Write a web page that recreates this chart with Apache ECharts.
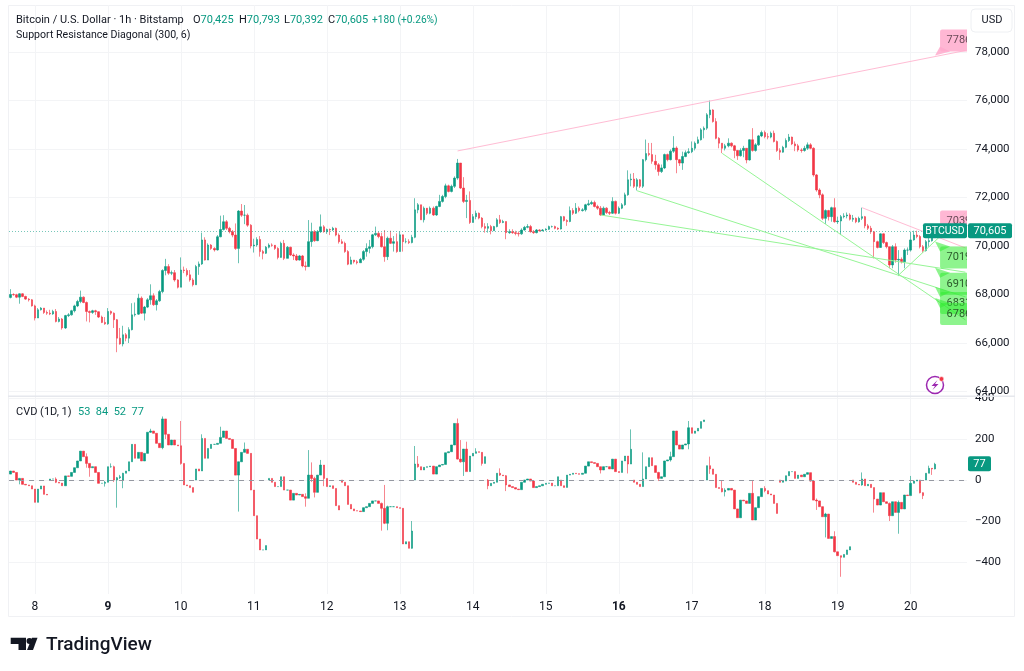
<!doctype html>
<html>
<head>
    <meta charset="utf-8">
    <title>BTCUSD</title>
    <script src="https://cdn.jsdelivr.net/npm/echarts@6/dist/echarts.min.js"></script>
    <style>
        html, body { margin: 0; padding: 0; background: #fff; }
        #main { width: 1024px; height: 671px; }
    </style>
</head>
<body>
    <div id="main"></div>
    <script type="text/javascript">
        // tick labels
        var dayLabels = ['8', '9', '10', '11', '12', '13', '14', '15', '16', '17', '18', '19', '20'];
        var priceTicks = [64000, 66000, 68000, 70000, 72000, 74000, 76000, 78000];
        var cvdTicks = [-400, -200, 0, 200, 400];

        // hourly candles. open is the previous close
        var priceFirstOpen = 67880;
        var priceClose = [
            68000,67990,67890,68030,67920,67810,67780,67530,
            67030,67370,67440,67260,67230,67200,67300,66890,66990,66620,67130,67160,67330,67530,67710,67890,
            67670,67300,67260,67330,67290,67070,66850,66790,67300,67230,66960,66200,65960,66340,66200,66550,67160,67190,67850,67230,67480,67780,67950,67580,
            67740,68120,68990,69150,68880,68900,68600,68300,69010,68990,68810,68600,68400,69150,69260,70250,69420,70040,69900,69840,70380,70680,71000,70730,
            70590,70450,69900,71440,71270,71270,70860,70000,70040,70270,69770,69700,69950,70040,70030,69900,69530,70110,69490,69950,69630,69590,69420,69590,
            69180,69150,70180,70590,70220,70590,70790,70590,70680,70660,70730,70450,70180,70110,69770,69250,69420,69350,69310,69450,69770,69900,69970,70460,
            70520,70390,69970,69560,70320,70110,70180,69770,70460,70180,70180,70140,70360,71490,71700,71080,71560,71350,71560,71280,71630,71840,72040,72480,
            72250,72460,72800,73420,72390,71840,71880,70970,71210,71350,71150,70800,70730,70800,70630,70800,71080,70970,71010,70550,70590,70550,70520,70500,
            70660,70770,70800,70590,70550,70660,70630,70660,70690,70800,70800,70730,70700,71210,71050,71010,71460,71350,71560,71460,71490,71700,71740,71790,
            71630,71560,71280,71560,71380,71350,71840,71350,71560,71700,72110,72730,72760,72460,72730,72460,73560,73810,73770,73490,73350,73070,73220,73770,
            73560,73910,74040,73560,73420,73690,73850,73890,74030,74240,74380,74790,74860,75410,75610,75130,74440,74240,74030,74130,74240,74130,73940,73720,
            73940,74030,73550,74380,73940,74170,74540,74680,74510,74490,74650,74310,73940,73870,74070,74350,74490,74210,74130,73960,73940,74030,74170,74030,
            72930,72310,72110,71140,71460,71210,71580,71000,71030,71210,71240,71280,71100,71140,71000,71140,71210,70830,70730,70590,70180,69940,70500,70140,
            69970,69220,69970,69420,69450,69350,69830,69830,70250,70450,70390,69970,69810,70180,70220,70425,70605
        ];
        var priceHigh = [
            68220,68050,68030,68050,68050,67950,67850,67810,
            67580,67440,67480,67440,67340,67370,67370,67400,67070,67030,67160,67230,67370,67580,67780,68160,
            67920,67710,67340,67370,67370,67300,67130,67070,67440,67340,67260,66990,66620,66710,66410,66650,67640,67670,68030,67920,67530,67850,68420,68050,
            67810,68190,69040,69470,69250,68990,69010,68630,69530,69150,69080,69010,68670,69220,69360,70550,70360,70110,70080,69950,70450,71250,71270,71070,
            70790,70660,70930,71480,71730,71690,71340,70900,70300,70360,70410,69840,70000,70110,70110,69930,69950,70180,70250,70000,69970,69700,69670,69630,
            69630,69360,71070,70960,70660,70660,71300,70860,70720,70720,70790,70760,70520,70280,70180,69830,69560,69420,69420,69510,69830,70110,70250,70500,
            70800,70590,70550,70660,70390,70630,70410,70520,70600,70430,70320,70280,70460,71970,71770,71700,71630,71460,71630,71630,71660,72110,72110,72570,
            72530,72530,72870,73590,73420,72840,72110,72250,71320,71460,71380,71190,70940,70940,70870,70830,71150,71280,71080,71010,70690,70690,70630,70600,
            70730,70830,70900,70870,70660,70700,70690,70700,70730,70840,70840,70840,70770,71240,71240,71100,71630,71560,71770,71630,71560,71740,71900,71870,
            71870,71700,71650,71630,71600,71450,72010,71870,71630,71770,72200,73120,72980,73010,72800,72760,73590,74390,74250,74250,73760,73420,73360,73810,
            73810,73980,74530,74110,73590,73890,73940,74030,74310,74310,74510,74860,74930,75480,76000,75640,75270,74490,74240,74210,74440,74270,74170,73960,
            74030,74130,74030,74400,74860,74240,74580,74760,74760,74650,74720,74760,74350,74030,74130,74440,74620,74510,74310,74210,74030,74130,74270,74240,
            74070,72970,72380,72170,71510,71490,71620,71970,71210,71280,71350,71380,71350,71280,71180,71210,71580,71240,70910,70830,70590,70220,70520,70520,
            70180,69970,70040,70110,69830,69530,69900,69940,70590,70630,70630,70450,70040,70250,70520,70560,70793
        ];
        var priceLow = [
            67840,67950,67850,67620,67890,67780,67710,67500,
            66930,67030,67340,67200,67160,67150,67160,66850,66850,66550,66580,67070,67130,67260,67480,67640,
            67640,66890,66850,67200,67160,67030,66820,66750,66750,67160,66620,65620,65930,65860,66070,66000,66520,67090,67160,67200,66930,67440,67580,67530,
            67340,67700,68050,68790,68810,68800,68530,68250,68300,68880,68740,68530,68330,68400,68810,69220,69400,69420,69840,69770,69810,70360,70640,70660,
            70520,70360,69840,69290,71200,70900,70790,69900,69730,69970,69560,69450,69670,69900,69970,69840,69450,69560,69420,69490,69590,69420,69380,69400,
            69120,68990,69220,69970,70170,70200,70540,70550,70500,70450,70620,70400,70100,70080,69720,69210,69250,69280,69240,69310,69390,69560,69700,69900,
            70410,70320,69940,69350,69420,70080,69770,69720,69770,69770,70110,70080,70110,70320,71350,71080,70970,71280,71310,71240,71240,71600,71790,71970,
            72210,72210,72390,72730,72350,71770,71150,70910,70970,71100,71100,70730,70550,70550,70480,70630,70770,70910,70940,70280,70500,70500,70440,70390,
            70460,70630,70730,70550,70500,70520,70590,70610,70630,70660,70760,70690,70660,70680,71010,70830,70980,71280,71320,71390,71420,71420,71660,71700,
            71590,71490,71240,71280,71320,71280,71320,71300,71320,71520,71660,72070,72460,72390,72290,72390,72390,73490,73700,73390,73150,72900,73010,73170,
            73490,73530,73840,73000,73300,73140,73660,73800,73830,73940,74210,74350,74440,74790,75270,75090,74400,74030,73830,73940,74070,74070,73620,73550,
            73690,73660,73410,73520,73890,73890,74130,74490,74440,74400,74440,74270,73880,73550,73850,74030,74290,74160,73910,73890,73850,73890,73960,73990,
            72860,72240,71970,71070,70910,71050,71000,70960,70910,70450,71140,71140,71050,71000,70940,70960,71070,70730,70660,70500,69490,69900,69970,70080,
            69900,69080,69080,69310,68760,69280,69080,69630,69770,70220,70320,69900,69720,69770,69970,70180,70392
        ];

        // CVD restarts from 0 at these hours
        var cvdResets = [13, 37, 61, 85, 109, 133, 157, 181, 205, 229, 253, 277, 301];
        var cvdFirstOpen = 29;
        var cvdClose = [
            44,37,0,8,-21,-24,-28,-44,-109,-44,-29,-70,-73,
            5,5,-11,-15,-28,20,18,37,60,93,141,114,81,60,65,37,-16,-16,-11,65,65,0,11,16,
            33,44,89,174,106,135,93,130,233,239,228,179,158,298,223,171,195,171,167,81,-24,-28,-37,-60,
            54,44,203,106,154,174,174,179,208,239,203,198,154,24,89,135,150,130,-49,-174,-288,-341,-341,-320,
            8,-11,-32,-32,16,-49,-49,-98,-65,-73,-70,-81,-89,24,8,-60,24,73,8,-32,-28,-41,-125,-146,
            -11,-28,-119,-141,-150,-151,-154,-135,-130,-114,-102,-102,-114,-138,-211,-130,-130,-130,-135,-138,-312,-301,-333,-249,
            78,65,49,62,65,68,29,65,73,76,133,138,171,276,102,89,151,41,117,130,138,135,81,114,
            -28,-16,-11,33,24,21,-24,-32,-37,-44,-47,-11,0,5,-5,-37,-32,-28,-21,-16,-15,-28,-28,16,
            -28,-36,24,28,33,31,28,33,68,89,85,81,65,49,65,65,54,102,41,37,93,117,78,150,
            -11,-21,-32,5,65,109,70,37,8,16,93,98,114,239,171,151,171,176,255,228,239,252,285,293,
            70,54,28,-37,-41,-57,-49,-41,-49,-141,-184,-98,-102,-114,-65,-195,-135,-81,-41,-52,-68,-73,-114,-163,
            -11,-5,21,41,41,8,24,16,28,36,-5,-98,-102,-130,-179,-166,-285,-276,-350,-369,-377,-363,-341,-325,
            -11,-21,-24,5,-28,-21,-37,-93,-122,-62,-106,-114,-174,-106,-158,-109,-141,-73,-76,-16,-5,0,-62,-76,
            33,57,54,77
        ];
        // only the candles with a wick you can see: [hour, high, low]
        var cvdWicks = [
            [3,10,-21],[15,13,-15],[25,130,60],[26,81,16],[31,-5,-32],[33,81,60],[34,70,-10],[35,15,-135],[36,25,5],[37,35,-40],
            [46,250,230],[50,310,150],[51,298,200],[56,288,75],[63,223,100],[69,260,180],[75,89,-154],[77,183,135],
            [97,-65,-130],[98,146,-30],[99,86,-10],[100,16,-85],[102,98,60],[103,70,-30],
            [122,-110,-247],[123,-24,-215],[124,-125,-245],[132,-200,-335],[133,166,0],[134,117,60],
            [147,300,100],[148,195,85],[149,151,20],[150,187,41],[153,155,135],[155,135,70],[157,5,-45],[161,57,20],[163,24,-54],
            [194,65,32],[203,117,32],[204,247,130],[208,135,-20],[213,40,-5],[217,138,90],
            [223,288,150],[230,114,30],[234,0,-60],[235,-40,-80],[244,-5,-195],[248,-30,-60],[263,10,-8],[265,-90,-146],
            [268,-160,-280],[271,-250,-353],[273,-370,-472],[280,37,-28],[284,-70,-159],[289,-110,-200],[292,-100,-262],
            [296,20,-30],[299,-5,-65],[300,-60,-93],[302,70,50],[303,57,25],[304,84,52]
        ];

        // diagonals: [from hour, from price, to hour, to price]
        var pinkDiagonals = [
            [147, 73920, 314, 78060],
            [280, 71580, 314, 69920]
        ];
        var greenDiagonals = [
            [206, 72280, 314, 67900],
            [194, 71280, 314, 68920],
            [234, 73820, 314, 66950],
            [292, 68800, 314, 71370]
        ];

        // callouts at the end of the diagonals
        var calloutHour = 304;
        var pinkCallouts = [77860, 70390];
        var greenCallouts = [70190, 69100, 68310, 67860];

        var lastPrice = 70605;
        var lastCvd = 77;

        // legend row: [left, label, value]
        var ohlcLegend = [[193, 'O', '70,425'], [239, 'H', '70,793'], [284, 'L', '70,392'], [328, 'C', '70,605']];
        var changeLegend = '+180 (+0.26%)';
        var cvdLegend = '53  84  52  77';

        var upColor = '#089981';
        var downColor = '#f23645';
        var upWick = 'rgba(8,153,129,0.6)';
        var downWick = 'rgba(242,54,69,0.6)';
        var gridColor = '#f3f4f6';
        var textColor = '#131722';
        var fontName = 'Roboto';
        var gridLeft = 9, gridRight = 967;

        var hours = [];
        var priceCandles = [];
        var cvdCandles = [];
        for (var i = 0; i < 315; i++) {
            hours.push((i - 8) % 24 === 0 && dayLabels[(i - 8) / 24] ? dayLabels[(i - 8) / 24] : '');
        }
        priceClose.forEach(function (c, i) {
            var o = i === 0 ? priceFirstOpen : priceClose[i - 1];
            priceCandles.push([o, c, priceLow[i], priceHigh[i]]);
        });
        cvdClose.forEach(function (c, i) {
            var o = i === 0 ? cvdFirstOpen : cvdClose[i - 1];
            if (cvdResets.indexOf(i) >= 0) o = 0;
            cvdCandles.push([o, c, Math.min(o, c), Math.max(o, c)]);
        });
        cvdWicks.forEach(function (w) {
            cvdCandles[w[0]][3] = Math.max(w[1], cvdCandles[w[0]][3]);
            cvdCandles[w[0]][2] = Math.min(w[2], cvdCandles[w[0]][2]);
        });

        function diagonal(d, color) {
            return {
                type: 'line',
                data: [[d[0], d[1]], [d[2], d[3]]],
                showSymbol: false,
                silent: true,
                animation: false,
                z: 5,
                lineStyle: { color: color, width: 1 }
            };
        }

        function callouts(values, fill, textFill, above) {
            return {
                type: 'custom',
                clip: true,
                silent: true,
                animation: false,
                z: 6,
                data: values.map(function (v) { return [calloutHour, v]; }),
                renderItem: function (params, api) {
                    var p = api.coord([api.value(0), api.value(1)]);
                    var x = p[0] + 5;
                    var y = above ? p[1] - 26 : p[1] + 5;
                    var edge = above ? y + 22 : y;
                    var side = above ? edge - 5 : edge + 5;
                    return {
                        type: 'group',
                        children: [
                            { type: 'polygon', shape: { points: [p, [x, side], [x + 10, edge]] }, style: { fill: fill } },
                            { type: 'rect', shape: { x: x, y: y, width: 40, height: 22, r: 2 }, style: { fill: fill } },
                            {
                                type: 'text',
                                style: {
                                    x: x + 6.5, y: y + 11, text: String(values[params.dataIndex]),
                                    fill: textFill, font: '11px ' + fontName, verticalAlign: 'middle'
                                }
                            }
                        ]
                    };
                }
            };
        }

        function chip(text, chipWidth, tag) {
            return function (params, api) {
                var y = api.coord([0, api.value(1)])[1];
                var out = [];
                if (tag) {
                    out.push({ type: 'rect', shape: { x: gridRight - 44, y: y - 8, width: 44, height: 15, r: 2 }, style: { fill: upColor } });
                    out.push({ type: 'text', style: { x: gridRight - 22, y: y, text: tag, fill: '#fff', font: '10.5px ' + fontName, align: 'center', verticalAlign: 'middle' } });
                }
                out.push({ type: 'rect', shape: { x: gridRight + 1, y: y - 8, width: chipWidth, height: 15, r: 2 }, style: { fill: upColor } });
                out.push({ type: 'text', style: { x: gridRight + 1 + chipWidth / 2, y: y, text: text, fill: '#fff', font: '11px ' + fontName, align: 'center', verticalAlign: 'middle' } });
                return { type: 'group', children: out };
            };
        }

        var series = [
            {
                type: 'candlestick',
                data: priceCandles,
                barWidth: 2,
                animation: false,
                itemStyle: { color: upColor, color0: downColor, borderColor: upWick, borderColor0: downWick, borderWidth: 1 },
                markLine: {
                    silent: true,
                    animation: false,
                    symbol: 'none',
                    label: { show: false },
                    lineStyle: { color: upColor, type: [1, 2], width: 1, opacity: 0.55 },
                    data: [{ yAxis: lastPrice }]
                }
            },
            {
                type: 'candlestick',
                xAxisIndex: 1,
                yAxisIndex: 1,
                data: cvdCandles,
                barWidth: 2,
                animation: false,
                itemStyle: { color: upColor, color0: downColor, borderColor: upWick, borderColor0: downWick, borderWidth: 1 },
                markLine: {
                    silent: true,
                    animation: false,
                    symbol: 'none',
                    label: { show: false },
                    lineStyle: { color: '#9598a1', type: [5, 5], width: 1 },
                    data: [{ yAxis: 0 }]
                }
            }
        ];
        pinkDiagonals.forEach(function (d) { series.push(diagonal(d, '#ffbcd4')); });
        greenDiagonals.forEach(function (d) { series.push(diagonal(d, '#96f596')); });
        series.push(callouts(pinkCallouts, 'rgba(255,170,205,0.85)', '#6b4a58', true));
        series.push(callouts(greenCallouts, 'rgba(50,235,50,0.55)', '#2c5a2c', false));
        series.push({
            type: 'custom', silent: true, animation: false, z: 8,
            data: [[calloutHour, lastPrice]],
            renderItem: chip('70,605', 44, 'BTCUSD')
        });
        series.push({
            type: 'custom', silent: true, animation: false, z: 8,
            xAxisIndex: 1, yAxisIndex: 1,
            data: [[calloutHour, lastCvd]],
            renderItem: chip(String(lastCvd), 23)
        });

        var dayOnly = function (index) { return (index - 8) % 24 === 0 && index <= 296; };

        var legendRich = {
            t: { color: textColor, fontSize: 11, fontFamily: fontName, fontWeight: 'normal' },
            v: { color: upColor, fontSize: 11, fontFamily: fontName, fontWeight: 'normal' },
            s: { color: upColor, fontSize: 10.2, fontFamily: fontName, fontWeight: 'normal' }
        };
        var titles = [
            { left: 16, top: 15, padding: 0, text: '{t|Bitcoin / U.S. Dollar · 1h · Bitstamp}', textStyle: { rich: legendRich } },
            { left: 16, top: 30, padding: 0, text: 'Support Resistance Diagonal (300, 6)', textStyle: { color: textColor, fontSize: 10.6, fontWeight: 'normal', fontFamily: fontName } },
            { left: 16, top: 407, padding: 0, text: '{t|CVD (1D, 1)}', textStyle: { rich: legendRich } },
            { left: 78, top: 407, padding: 0, text: '{v|' + cvdLegend + '}', textStyle: { rich: legendRich } },
            { left: 372, top: 15, padding: 0, text: '{s|' + changeLegend + '}', textStyle: { rich: legendRich } }
        ];
        ohlcLegend.forEach(function (item) {
            titles.push({ left: item[0], top: 15, padding: 0, text: '{t|' + item[1] + '}{v|' + item[2] + '}', textStyle: { rich: legendRich } });
        });

        var option = {
            animation: false,
            backgroundColor: '#fff',
            textStyle: { fontFamily: fontName },
            title: titles,
            grid: [
                { left: gridLeft, right: 1024 - gridRight, top: 5, height: 392 },
                { left: gridLeft, right: 1024 - gridRight, top: 397, height: 197 }
            ],
            xAxis: [
                {
                    type: 'category', data: hours, gridIndex: 0,
                    axisLine: { show: false }, axisTick: { show: false }, axisLabel: { show: false },
                    splitLine: { show: true, alignWithLabel: true, interval: dayOnly, lineStyle: { color: gridColor } }
                },
                {
                    type: 'category', data: hours, gridIndex: 1,
                    axisLine: { show: false }, axisTick: { show: false },
                    axisLabel: {
                        interval: dayOnly, margin: 7, color: textColor, fontSize: 12,
                        formatter: function (v) {
                            return v === '9' || v === '16' ? '{b|' + v + '}' : v;
                        },
                        rich: { b: { fontWeight: 'bold', fontSize: 12, color: textColor } }
                    },
                    splitLine: { show: true, alignWithLabel: true, interval: dayOnly, lineStyle: { color: gridColor } }
                }
            ],
            yAxis: [
                {
                    type: 'value', gridIndex: 0, position: 'right', min: 63773, max: 79938, scale: true,
                    axisLine: { show: false }, axisTick: { show: false, customValues: priceTicks },
                    axisLabel: {
                        customValues: priceTicks, color: textColor, fontSize: 11.5, margin: 8, padding: [8, 0, 0, 0], showMinLabel: true, showMaxLabel: true,
                        formatter: function (v) { return String(v).replace(/(\d\d)(\d{3})$/, '$1,$2'); }
                    },
                    splitLine: { show: true, lineStyle: { color: gridColor } }
                },
                {
                    type: 'value', gridIndex: 1, position: 'right', min: -556, max: 405, scale: true,
                    axisLine: { show: false }, axisTick: { show: false, customValues: cvdTicks },
                    axisLabel: {
                        customValues: cvdTicks, color: textColor, fontSize: 11.5, margin: 8, padding: [8, 0, 0, 0],
                        formatter: function (v) { return String(v).replace('-', '−'); }
                    },
                    splitLine: { show: true, lineStyle: { color: gridColor } }
                }
            ],
            series: series,
            graphic: [
                // frame and pane divider
                { type: 'rect', silent: true, z: -1, shape: { x: 8.5, y: 5.5, width: 1006, height: 611 }, style: { fill: 'none', stroke: '#f0f1f4' } },
                { type: 'rect', silent: true, z: 1, shape: { x: 8, y: 395.5, width: 1007, height: 1.5 }, style: { fill: '#e6e8ed' } },
                // USD button
                { type: 'rect', silent: true, z: 10, shape: { x: 971, y: 9, width: 41, height: 23, r: 4 }, style: { fill: '#fff', stroke: '#eef0f3' } },
                { type: 'text', silent: true, z: 11, style: { x: 992, y: 20, text: 'USD', fill: textColor, font: '11px ' + fontName, align: 'center', verticalAlign: 'middle' } },
                // lightning badge
                { type: 'circle', silent: true, z: 10, shape: { cx: 935, cy: 385, r: 8.5 }, style: { fill: '#fff', stroke: '#9c27b0', lineWidth: 1.5 } },
                { type: 'polygon', silent: true, z: 11, shape: { points: [[937.5, 380], [931.5, 386], [935, 386], [932.5, 390], [938.5, 384], [935, 384]] }, style: { fill: '#9c27b0' } },
                { type: 'circle', silent: true, z: 12, shape: { cx: 941.5, cy: 379, r: 2.4 }, style: { fill: '#f23645', stroke: '#fff', lineWidth: 0.6 } },
                // TradingView logo
                { type: 'polygon', silent: true, z: 10, shape: { points: [[10.7, 637.7], [26, 637.7], [26, 650], [18.5, 650], [18.5, 644], [10.7, 644]] }, style: { fill: '#131722' } },
                { type: 'circle', silent: true, z: 10, shape: { cx: 29.5, cy: 641, r: 3 }, style: { fill: '#131722' } },
                { type: 'polygon', silent: true, z: 10, shape: { points: [[32, 637.7], [37.5, 637.7], [33, 650], [27, 650]] }, style: { fill: '#131722' } },
                { type: 'text', silent: true, z: 10, style: { x: 46, y: 645, text: 'TradingView', fill: '#131722', font: '500 19px ' + fontName, verticalAlign: 'middle' } }
            ]
        };

        var myChart = echarts.init(document.getElementById('main'), null, { renderer: 'canvas' });
        myChart.setOption(option);
    </script>
</body>
</html>
